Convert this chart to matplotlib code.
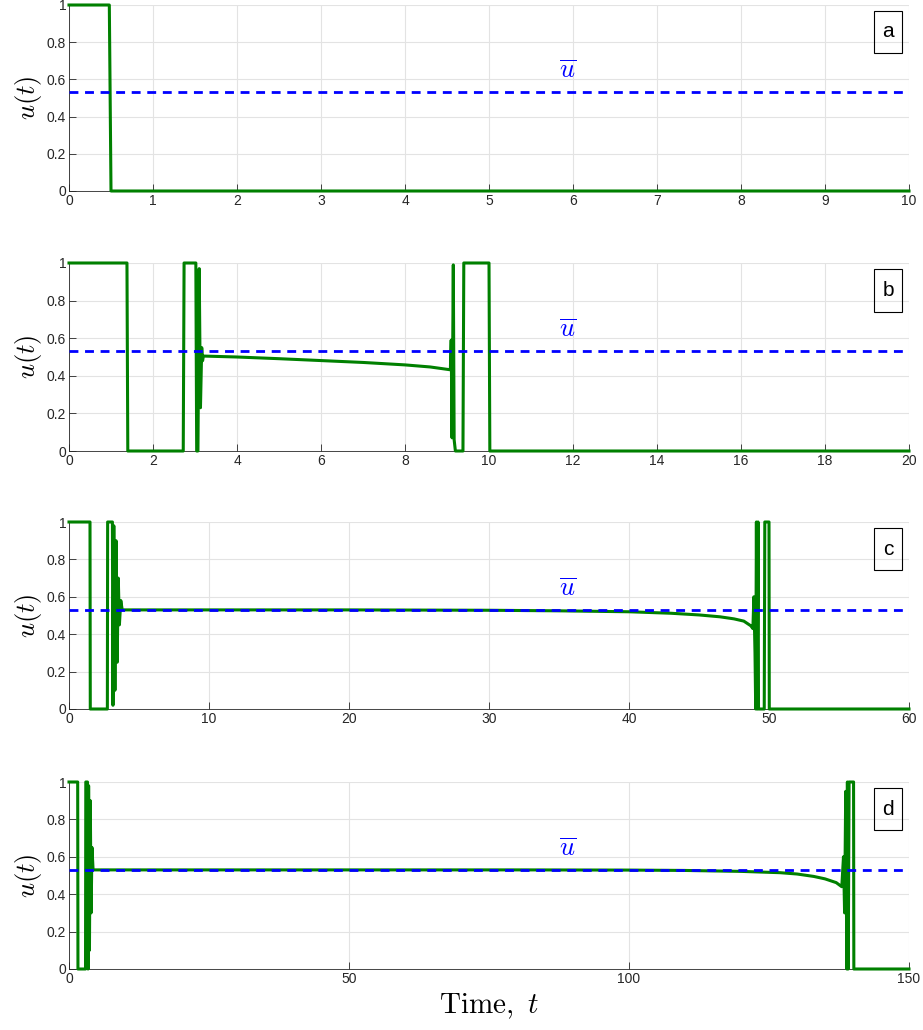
import numpy as np
import matplotlib.pyplot as plt
from matplotlib.patches import Rectangle

plt.rcParams['mathtext.fontset'] = 'cm'
plt.rcParams['font.family'] = ['Liberation Sans', 'DejaVu Sans']

u_bar = 0.53

# панель a
t_a = [0, 0.48, 0.50, 10]
u_a = [1, 1, 0, 0]

# панель b
t_b = [0, 1.38, 1.40, 2.72, 2.74, 3.02, 3.04, 3.07, 3.10, 3.13, 3.16, 3.18, 3.20,
       4, 5, 6, 7, 8, 8.6, 9.08, 9.10, 9.12, 9.15, 9.17, 9.20, 9.38, 9.40, 10.0, 10.02, 20]
u_b = [1, 1, 0, 0, 1, 1, 0, 0, 0.97, 0.23, 0.55, 0.48, 0.505,
       0.500, 0.491, 0.481, 0.471, 0.458, 0.447, 0.432, 0.59, 0.07, 0.99, 0.06, 0, 0, 1, 1, 0, 0]

# панель c
t_c = [0, 1.50, 1.52, 2.74, 2.76, 3.10, 3.14, 3.20, 3.28, 3.36, 3.44, 3.52, 3.60, 3.70, 3.80,
       10, 20, 30, 35, 40, 43, 45, 46.5, 47.5, 48.2, 48.7, 48.85, 48.92, 49.0, 49.05, 49.1,
       49.15, 49.22, 49.25, 49.66, 49.70, 50.0, 50.02, 60]
u_c = [1, 1, 0, 0, 1, 1, 0.02, 0.98, 0.1, 0.9, 0.25, 0.7, 0.45, 0.58, 0.53,
       0.53, 0.53, 0.528, 0.525, 0.52, 0.512, 0.503, 0.493, 0.482, 0.47, 0.445, 0.43, 0.6, 0.3, 0.0, 1.0,
       0.0, 1.0, 0.0, 0.0, 1, 1, 0, 0]

# панель d
t_d = [0, 1.55, 1.60, 2.95, 3.0, 3.3, 3.4, 3.5, 3.65, 3.8, 3.95, 4.1, 4.3,
       20, 50, 80, 100, 110, 120, 127, 130, 133, 135, 137, 138, 138.3, 138.5, 138.7, 138.9,
       139.0, 139.15, 139.3, 140.1, 140.15, 150]
u_d = [1, 1, 0, 0, 1, 1, 0.0, 0.98, 0.1, 0.9, 0.3, 0.65, 0.53,
       0.53, 0.53, 0.53, 0.529, 0.527, 0.522, 0.515, 0.508, 0.495, 0.482, 0.462, 0.44, 0.6, 0.3, 0.95, 0.0,
       1.0, 0.0, 1.0, 1.0, 0.0, 0.0]

panels = [(t_a, u_a, 10, np.arange(0, 11, 1), 'a'),
          (t_b, u_b, 20, np.arange(0, 21, 2), 'b'),
          (t_c, u_c, 60, np.arange(0, 61, 10), 'c'),
          (t_d, u_d, 150, np.arange(0, 151, 50), 'd')]

fig = plt.figure(figsize=(9.23, 10.30), dpi=100)
W, H = 923, 1030
tops = [5, 263, 522, 782]
bottoms = [191, 451, 709, 969]

for i, (t, u, tmax, xt, lab) in enumerate(panels):
    ax = fig.add_axes([69 / W, 1 - bottoms[i] / H, 840 / W, (bottoms[i] - tops[i]) / H])
    ax.plot(t, u, color='#008000', lw=2.2, zorder=3, clip_on=False)
    ax.axhline(u_bar, color='#0000ff', lw=2.0, ls=(0, (3.2, 2.4)), zorder=4)
    ax.set_xlim(0, tmax)
    ax.set_ylim(0, 1)
    ax.set_xticks(xt)
    ax.set_yticks([0, 0.2, 0.4, 0.6, 0.8, 1])
    ax.set_yticklabels(['0', '0.2', '0.4', '0.6', '0.8', '1'])
    ax.grid(True, color='#e3e3e3', lw=0.8)
    ax.set_axisbelow(True)
    for s in ['top', 'right']:
        ax.spines[s].set_visible(False)
    for s in ['left', 'bottom']:
        ax.spines[s].set_color('#262626')
        ax.spines[s].set_linewidth(0.6)
    ax.tick_params(direction='in', length=5, width=0.6, colors='#262626',
                   labelsize=10, pad=2)
    ax.set_ylabel(r'$u(t)$', fontsize=19, labelpad=2)
    ax.text(0.593, 0.645, r'$\overline{u}$', transform=ax.transAxes, color='#0000ff',
            fontsize=19, ha='center', va='center')
    ax.add_patch(Rectangle((0.958, 0.742), 0.034, 0.226, transform=ax.transAxes,
                           fill=False, ec='black', lw=0.8, zorder=6))
    ax.text(0.975, 0.855, lab, transform=ax.transAxes, fontsize=15,
            ha='center', va='center', zorder=7)
    if i == 3:
        ax.set_xlabel(r'$\mathrm{Time,}\ t$', fontsize=21, labelpad=4)

plt.savefig('out.png', dpi=100)
